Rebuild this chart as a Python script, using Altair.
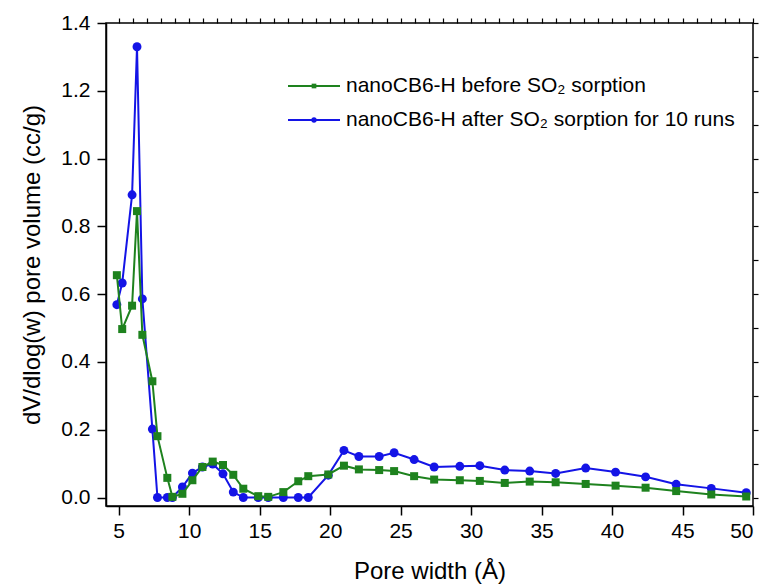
import altair as alt
import pandas as pd

# Pore width (Å), shared by both series
pore_width = [4.87, 5.25, 5.95, 6.3, 6.68, 7.39, 7.75, 8.45, 8.81, 9.52,
              10.23, 10.94, 11.67, 12.40, 13.13, 13.84, 14.9, 15.61, 16.68, 17.74,
              18.45, 19.87, 20.98, 22.04, 23.48, 24.54, 25.96, 27.38, 29.2, 30.62,
              32.39, 34.16, 36.0, 38.13, 40.25, 42.38, 44.55, 47.04, 49.52]

before = [0.656, 0.497, 0.566, 0.845, 0.480, 0.343, 0.181, 0.058, 0.002, 0.011,
          0.051, 0.090, 0.106, 0.096, 0.067, 0.026, 0.004, 0.002, 0.016, 0.048,
          0.063, 0.068, 0.094, 0.083, 0.081, 0.078, 0.063, 0.053, 0.051, 0.049,
          0.043, 0.047, 0.045, 0.040, 0.035, 0.029, 0.019, 0.009, 0.003]

after = [0.569, 0.633, 0.893, 1.330, 0.586, 0.202, 0.0, 0.0, 0.0, 0.031,
         0.072, 0.090, 0.099, 0.070, 0.016, 0.0, 0.0, 0.0, 0.0, 0.0,
         0.0, 0.066, 0.139, 0.121, 0.121, 0.132, 0.112, 0.090, 0.092, 0.094,
         0.081, 0.078, 0.071, 0.087, 0.075, 0.061, 0.039, 0.027, 0.014]

labels = ["nanoCB6-H before SO\u2082 sorption",
          "nanoCB6-H after SO\u2082 sorption for 10 runs"]

x_major = [5, 10, 15, 20, 25, 30, 35, 40, 45, 50]
x_minor = list(range(5, 51))
y_major = [0.0, 0.2, 0.4, 0.6, 0.8, 1.0, 1.2, 1.4]
y_minor = [round(i * 0.1, 1) for i in range(0, 15)]

GREEN = "#1e821e"
BLUE = "#1414e6"
FONT = "Liberation Sans"

df_before = pd.DataFrame({"w": pore_width, "v": before})
df_after = pd.DataFrame({"w": pore_width, "v": after})

xscale = alt.Scale(domain=[4.1, 50], nice=False, zero=False)
yscale = alt.Scale(domain=[-0.025, 1.4], nice=False, zero=False)

x_major_axis = alt.Axis(values=x_major, title="Pore width (Å)", grid=False,
                        tickSize=9, labelFontSize=21, titleFontSize=24,
                        titleFontWeight="normal", labelPadding=5, titlePadding=18,
                        labelColor="black", titleColor="black", labelFont=FONT, titleFont=FONT,
                        domainColor="black", tickColor="black", domainWidth=1.5, tickWidth=1.5)
y_major_axis = alt.Axis(values=y_major, format=".1f", title="dV/dlog(w) pore volume (cc/g)",
                        grid=False, tickSize=9, labelFontSize=21, titleFontSize=24,
                        titleFontWeight="normal", labelPadding=7, titlePadding=16,
                        labelColor="black", titleColor="black", labelFont=FONT, titleFont=FONT,
                        domainColor="black", tickColor="black", domainWidth=1.5, tickWidth=1.5)
x_minor_axis = alt.Axis(values=x_minor, labels=False, title=None, grid=False, domain=False,
                        tickSize=5, tickColor="black", tickWidth=1.2)
y_minor_axis = alt.Axis(values=y_minor, labels=False, title=None, grid=False, domain=False,
                        tickSize=5, tickColor="black", tickWidth=1.2)

blue_line = alt.Chart(df_after).mark_line(color=BLUE, strokeWidth=2).encode(
    x=alt.X("w:Q", scale=xscale, axis=x_major_axis),
    y=alt.Y("v:Q", scale=yscale, axis=y_major_axis),
)
blue_pts = alt.Chart(df_after).mark_point(shape="circle", filled=True, color=BLUE,
                                          size=80, opacity=1).encode(
    x=alt.X("w:Q", scale=xscale, axis=None),
    y=alt.Y("v:Q", scale=yscale, axis=None),
)
green_line = alt.Chart(df_before).mark_line(color=GREEN, strokeWidth=2).encode(
    x=alt.X("w:Q", scale=xscale, axis=x_minor_axis),
    y=alt.Y("v:Q", scale=yscale, axis=y_minor_axis),
)
green_pts = alt.Chart(df_before).mark_point(shape="square", filled=True, color=GREEN,
                                            size=64, opacity=1).encode(
    x=alt.X("w:Q", scale=xscale, axis=None),
    y=alt.Y("v:Q", scale=yscale, axis=None),
)

# manual legend
leg_layers = []
colors = [GREEN, BLUE]
shapes = ["square", "circle"]
sizes = [22, 28]
rows_y = [63, 97]
for i in range(2):
    ldf = pd.DataFrame({"label": [labels[i]]})
    base = alt.Chart(ldf)
    leg_layers.append(base.mark_rule(color=colors[i], strokeWidth=2).encode(
        x=alt.value(182), x2=alt.value(234), y=alt.value(rows_y[i])))
    leg_layers.append(base.mark_point(shape=shapes[i], filled=True, color=colors[i],
                                      size=sizes[i], opacity=1).encode(
        x=alt.value(208), y=alt.value(rows_y[i])))
    leg_layers.append(base.mark_text(align="left", baseline="middle", fontSize=21,
                                     font=FONT, color="black").encode(
        x=alt.value(240), y=alt.value(rows_y[i]), text="label:N"))

chart = alt.layer(blue_line, blue_pts, green_line, green_pts, *leg_layers).resolve_axis(
    x="independent", y="independent"
).properties(
    width=647, height=483,
    padding={"left": 106, "top": 23, "right": 14, "bottom": 80},
    autosize=alt.AutoSizeParams(type="none"),
    background="white",
).configure_view(stroke="black", strokeWidth=1.5)

chart.save("out.html", embed_options={"renderer": "svg", "actions": False})
